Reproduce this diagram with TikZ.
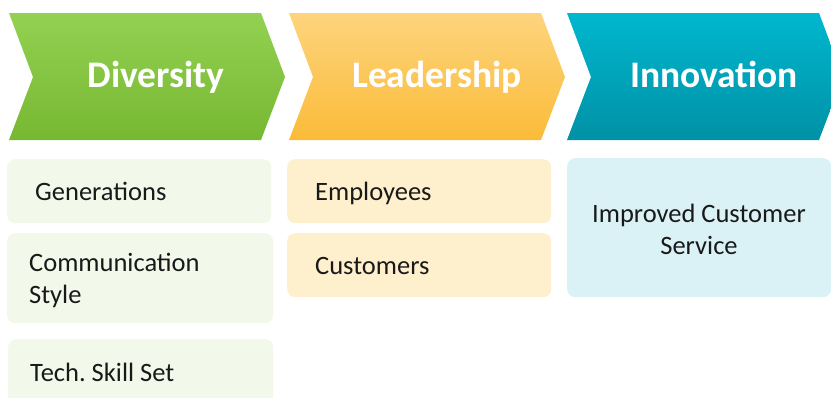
\documentclass[tikz,border=0pt]{standalone}
\usepackage{fontspec}
\setmainfont{Carlito}
\begin{document}
\frenchspacing
\begin{tikzpicture}[x=1pt,y=-1pt,
  head/.style={text=white,font=\fontsize{37.5}{42}\selectfont\bfseries,inner sep=0pt,anchor=base},
  item/.style={text=black!90,font=\fontsize{26.5}{32}\selectfont,inner sep=0pt,anchor=base west,align=left},
  card/.style={rounded corners=8pt,inner sep=0pt,anchor=north west,minimum width=264pt},
  gcard/.style={card,fill=grnL},
  ocard/.style={card,fill=orgL},
  tcard/.style={card,fill=tealL}]
\definecolor{grnT}{HTML}{93D152}
\definecolor{grnB}{HTML}{77B832}
\definecolor{orgT}{HTML}{FDD47D}
\definecolor{orgB}{HTML}{FBBB38}
\definecolor{tealT}{HTML}{00B7CF}
\definecolor{tealB}{HTML}{0091A5}
\definecolor{grnL}{HTML}{F2F8EA}
\definecolor{orgL}{HTML}{FFF0CD}
\definecolor{tealL}{HTML}{DAF2F6}
\useasboundingbox (0,0) rectangle (831,397);
\clip (0,0) rectangle (831,397);
% chevron banners
\shade[top color=grnT,bottom color=grnB]
  (9,13) -- (261,13) -- (285,77) -- (261,140) -- (9,140) -- (33,77) -- cycle;
\shade[top color=orgT,bottom color=orgB]
  (289,13) -- (541,13) -- (565,77) -- (541,140) -- (289,140) -- (313,77) -- cycle;
\shade[top color=tealT,bottom color=tealB]
  (567,13) -- (819,13) -- (843,77) -- (819,140) -- (567,140) -- (591,77) -- cycle;
\node[head] (div) at (156,87) {Diversity};
\node[head] (lead) at (437,87) {Leadership};
\node[head] (inno) at (714,87) {Innovation};
% cards
\node[gcard,minimum height=64pt] (genbox) at (7,159) {};
\node[gcard,minimum height=90pt,minimum width=266pt] (commbox) at (7,233) {};
\node[gcard,minimum height=80pt,minimum width=265pt] (techbox) at (8,339) {};
\node[ocard,minimum height=64pt] (empbox) at (287,159) {};
\node[ocard,minimum height=64pt] (custbox) at (287,233) {};
\node[tcard,minimum height=139pt] (icsbox) at (567,158) {};
% card texts (multi-line texts sit on the baseline of their last line)
\node[item] (gen) at (35,200) {Generations};
\node[item] (comm) at (29,303) {Communication\\Style};
\node[item] (tech) at (30,381) {Tech. Skill Set};
\node[item] (emp) at (315,200) {Employees};
\node[item] (cust) at (315,274) {Customers};
\node[item,align=center,anchor=base] (ics) at (699,254) {Improved Customer\\Service};
\end{tikzpicture}
\end{document}
